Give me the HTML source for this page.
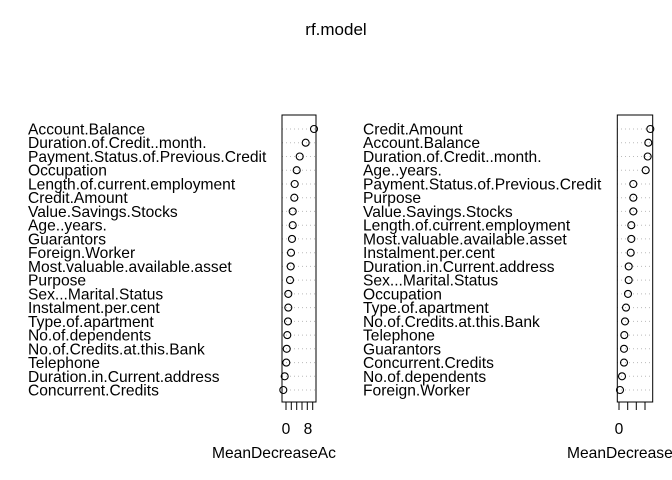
<!DOCTYPE html>
<html><head><meta charset="utf-8"><style>
html,body{margin:0;padding:0;background:#fff;}
svg{display:block;}
text{font-family:"Liberation Sans",Arial,sans-serif;fill:#000;}
.l{font-size:15.6px;}
</style></head><body>
<svg width="672" height="480" viewBox="0 0 672 480" xmlns="http://www.w3.org/2000/svg">
<text x="336" y="35" font-size="17" text-anchor="middle">rf.model</text>

<!-- left panel -->
<g class="l">
<text x="28" y="134.5">Account.Balance</text>
<text x="28" y="148.2">Duration.of.Credit..month.</text>
<text x="28" y="162">Payment.Status.of.Previous.Credit</text>
<text x="28" y="175.7">Occupation</text>
<text x="28" y="189.5">Length.of.current.employment</text>
<text x="28" y="203.2">Credit.Amount</text>
<text x="28" y="216.9">Value.Savings.Stocks</text>
<text x="28" y="230.7">Age..years.</text>
<text x="28" y="244.4">Guarantors</text>
<text x="28" y="258.2">Foreign.Worker</text>
<text x="28" y="271.9">Most.valuable.available.asset</text>
<text x="28" y="285.6">Purpose</text>
<text x="28" y="299.4">Sex...Marital.Status</text>
<text x="28" y="313.1">Instalment.per.cent</text>
<text x="28" y="326.9">Type.of.apartment</text>
<text x="28" y="340.6">No.of.dependents</text>
<text x="28" y="354.3">No.of.Credits.at.this.Bank</text>
<text x="28" y="368.1">Telephone</text>
<text x="28" y="381.8">Duration.in.Current.address</text>
<text x="28" y="395.5">Concurrent.Credits</text>
</g>
<g stroke="#bbb" stroke-dasharray="1,3" stroke-width="1">
<line x1="282" x2="316" y1="129" y2="129"/><line x1="282" x2="316" y1="142.7" y2="142.7"/>
<line x1="282" x2="316" y1="156.5" y2="156.5"/><line x1="282" x2="316" y1="170.2" y2="170.2"/>
<line x1="282" x2="316" y1="184" y2="184"/><line x1="282" x2="316" y1="197.7" y2="197.7"/>
<line x1="282" x2="316" y1="211.4" y2="211.4"/><line x1="282" x2="316" y1="225.2" y2="225.2"/>
<line x1="282" x2="316" y1="238.9" y2="238.9"/><line x1="282" x2="316" y1="252.7" y2="252.7"/>
<line x1="282" x2="316" y1="266.4" y2="266.4"/><line x1="282" x2="316" y1="280.1" y2="280.1"/>
<line x1="282" x2="316" y1="293.9" y2="293.9"/><line x1="282" x2="316" y1="307.6" y2="307.6"/>
<line x1="282" x2="316" y1="321.4" y2="321.4"/><line x1="282" x2="316" y1="335.1" y2="335.1"/>
<line x1="282" x2="316" y1="348.8" y2="348.8"/><line x1="282" x2="316" y1="362.6" y2="362.6"/>
<line x1="282" x2="316" y1="376.3" y2="376.3"/><line x1="282" x2="316" y1="390" y2="390"/>
</g>
<g fill="none" stroke="#000" stroke-width="1.1">
<circle cx="314" cy="129" r="3.5"/><circle cx="305.7" cy="142.7" r="3.5"/><circle cx="299.7" cy="156.5" r="3.5"/>
<circle cx="296.7" cy="170.2" r="3.5"/><circle cx="294.7" cy="184" r="3.5"/><circle cx="294.3" cy="197.7" r="3.5"/>
<circle cx="292.7" cy="211.4" r="3.5"/><circle cx="292.7" cy="225.2" r="3.5"/><circle cx="292" cy="238.9" r="3.5"/>
<circle cx="291" cy="252.7" r="3.5"/><circle cx="290.7" cy="266.4" r="3.5"/><circle cx="290" cy="280.1" r="3.5"/>
<circle cx="288.3" cy="293.9" r="3.5"/><circle cx="288.3" cy="307.6" r="3.5"/>
<circle cx="288" cy="321.4" r="3.5"/><circle cx="287.3" cy="335.1" r="3.5"/><circle cx="286.7" cy="348.8" r="3.5"/>
<circle cx="286.3" cy="362.6" r="3.5"/><circle cx="284.7" cy="376.3" r="3.5"/><circle cx="283.3" cy="390" r="3.5"/>
</g>
<rect x="282" y="115" width="34" height="287" fill="none" stroke="#000" stroke-width="1"/>
<g stroke="#000" stroke-width="1">
<line x1="286" x2="286" y1="402" y2="410"/><line x1="291.3" x2="291.3" y1="402" y2="410"/>
<line x1="296.7" x2="296.7" y1="402" y2="410"/><line x1="302" x2="302" y1="402" y2="410"/>
<line x1="307.3" x2="307.3" y1="402" y2="410"/><line x1="312.7" x2="312.7" y1="402" y2="410"/>
</g>
<text x="286" y="434" font-size="15.6" text-anchor="middle">0</text>
<text x="308" y="434" font-size="15.6" text-anchor="middle">8</text>
<svg x="0" y="0" width="336" height="480"><text x="212" y="458" font-size="15.6">MeanDecreaseAccuracy</text></svg>

<!-- right panel -->
<g class="l">
<text x="363" y="134.5">Credit.Amount</text>
<text x="363" y="148.2">Account.Balance</text>
<text x="363" y="162">Duration.of.Credit..month.</text>
<text x="363" y="175.7">Age..years.</text>
<text x="363" y="189.5">Payment.Status.of.Previous.Credit</text>
<text x="363" y="203.2">Purpose</text>
<text x="363" y="216.9">Value.Savings.Stocks</text>
<text x="363" y="230.7">Length.of.current.employment</text>
<text x="363" y="244.4">Most.valuable.available.asset</text>
<text x="363" y="258.2">Instalment.per.cent</text>
<text x="363" y="271.9">Duration.in.Current.address</text>
<text x="363" y="285.6">Sex...Marital.Status</text>
<text x="363" y="299.4">Occupation</text>
<text x="363" y="313.1">Type.of.apartment</text>
<text x="363" y="326.9">No.of.Credits.at.this.Bank</text>
<text x="363" y="340.6">Telephone</text>
<text x="363" y="354.3">Guarantors</text>
<text x="363" y="368.1">Concurrent.Credits</text>
<text x="363" y="381.8">No.of.dependents</text>
<text x="363" y="395.5">Foreign.Worker</text>
</g>
<g stroke="#bbb" stroke-dasharray="1,3" stroke-width="1">
<line x1="617" x2="653" y1="129" y2="129"/><line x1="617" x2="653" y1="142.7" y2="142.7"/>
<line x1="617" x2="653" y1="156.5" y2="156.5"/><line x1="617" x2="653" y1="170.2" y2="170.2"/>
<line x1="617" x2="653" y1="184" y2="184"/><line x1="617" x2="653" y1="197.7" y2="197.7"/>
<line x1="617" x2="653" y1="211.4" y2="211.4"/><line x1="617" x2="653" y1="225.2" y2="225.2"/>
<line x1="617" x2="653" y1="238.9" y2="238.9"/><line x1="617" x2="653" y1="252.7" y2="252.7"/>
<line x1="617" x2="653" y1="266.4" y2="266.4"/><line x1="617" x2="653" y1="280.1" y2="280.1"/>
<line x1="617" x2="653" y1="293.9" y2="293.9"/><line x1="617" x2="653" y1="307.6" y2="307.6"/>
<line x1="617" x2="653" y1="321.4" y2="321.4"/><line x1="617" x2="653" y1="335.1" y2="335.1"/>
<line x1="617" x2="653" y1="348.8" y2="348.8"/><line x1="617" x2="653" y1="362.6" y2="362.6"/>
<line x1="617" x2="653" y1="376.3" y2="376.3"/><line x1="617" x2="653" y1="390" y2="390"/>
</g>
<g fill="none" stroke="#000" stroke-width="1.1">
<circle cx="650.3" cy="129" r="3.5"/><circle cx="648.3" cy="142.7" r="3.5"/><circle cx="647.7" cy="156.5" r="3.5"/>
<circle cx="645.7" cy="170.2" r="3.5"/><circle cx="633.3" cy="184" r="3.5"/><circle cx="633.3" cy="197.7" r="3.5"/>
<circle cx="633.3" cy="211.4" r="3.5"/><circle cx="631.3" cy="225.2" r="3.5"/><circle cx="631.3" cy="238.9" r="3.5"/>
<circle cx="630.7" cy="252.7" r="3.5"/><circle cx="628.7" cy="266.4" r="3.5"/><circle cx="628.7" cy="280.1" r="3.5"/>
<circle cx="628" cy="293.9" r="3.5"/><circle cx="626" cy="307.6" r="3.5"/><circle cx="625" cy="321.4" r="3.5"/>
<circle cx="624.3" cy="335.1" r="3.5"/><circle cx="624" cy="348.8" r="3.5"/>
<circle cx="624" cy="362.6" r="3.5"/><circle cx="622" cy="376.3" r="3.5"/><circle cx="620" cy="390" r="3.5"/>
</g>
<rect x="617.3" y="115" width="35.4" height="287" fill="none" stroke="#000" stroke-width="1"/>
<g stroke="#000" stroke-width="1">
<line x1="619" x2="619" y1="402" y2="410"/><line x1="627.7" x2="627.7" y1="402" y2="410"/>
<line x1="636.3" x2="636.3" y1="402" y2="410"/><line x1="645" x2="645" y1="402" y2="410"/>
</g>
<text x="619" y="434" font-size="15.6" text-anchor="middle">0</text>
<text x="567" y="458" font-size="15.6">MeanDecreaseGini</text>
</svg>
</body></html>
